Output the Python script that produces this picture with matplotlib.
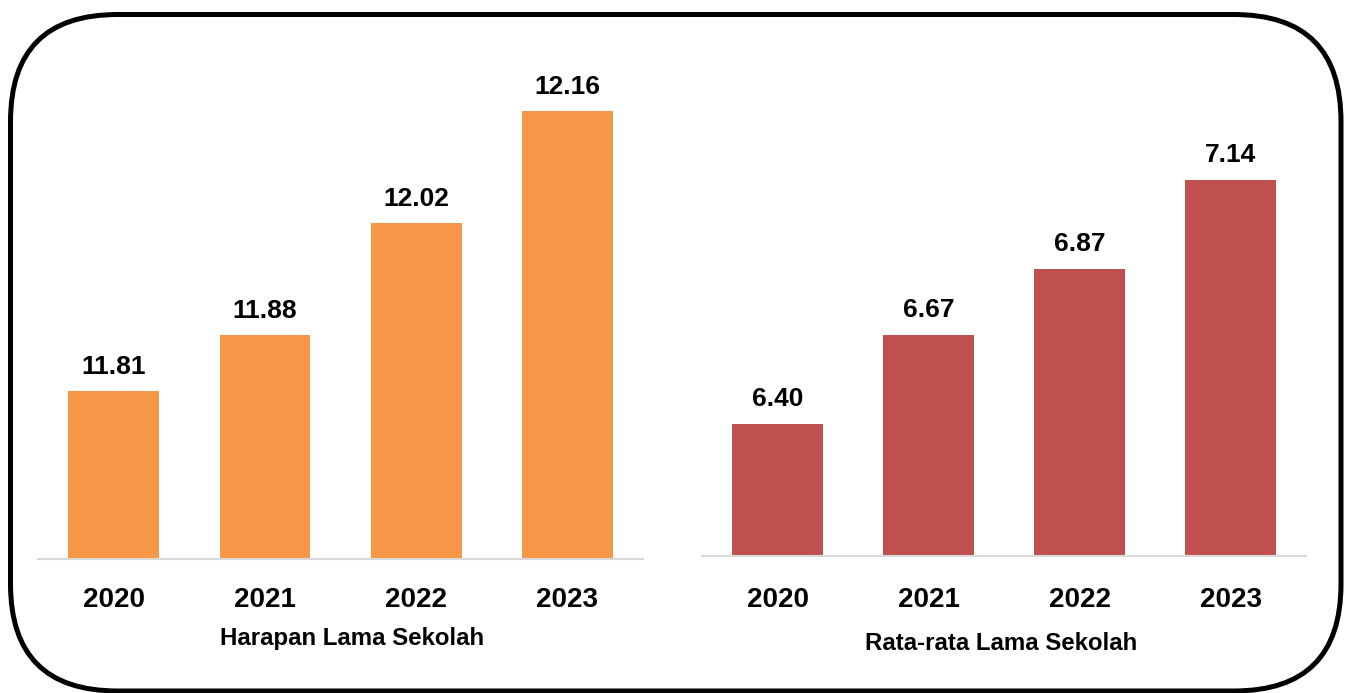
import matplotlib
matplotlib.use("Agg")
import matplotlib.pyplot as plt
from matplotlib.patches import FancyBboxPatch

years = ["2020", "2021", "2022", "2023"]
hls_values = [11.81, 11.88, 12.02, 12.16]
rls_values = [6.40, 6.67, 6.87, 7.14]
hls_labels = ["11.81", "11.88", "12.02", "12.16"]
rls_labels = ["6.40", "6.67", "6.87", "7.14"]
hls_title = "Harapan Lama Sekolah"
rls_title = "Rata-rata Lama Sekolah"

plt.rcParams['font.family'] = ['Liberation Sans', 'DejaVu Sans']

W, H = 1350, 693
fig = plt.figure(figsize=(W / 100, H / 100), dpi=100)

def px_axes(x0, x1, ybot, ytop):
    return fig.add_axes([x0 / W, (H - ybot) / H, (x1 - x0) / W, (ybot - ytop) / H])

ax1 = px_axes(38, 643, 559, 39)     # ylim 11.6 .. 12.25
ax2 = px_axes(702, 1306, 556, 94)   # ylim 6.0 .. 7.4

def draw(ax, vals, labels, color, ylim, pad):
    x = list(range(len(vals)))
    ax.bar(x, vals, width=0.6, color=color, zorder=2)
    ax.set_xlim(-0.5, len(vals) - 0.5)
    ax.set_ylim(*ylim)
    for xi, v, lab in zip(x, vals, labels):
        ax.annotate(lab, (xi, v), xytext=(0, 9), textcoords='offset points',
                    ha='center', va='bottom', fontsize=19, fontweight='bold', color='black')
    ax.set_xticks(x)
    ax.set_xticklabels(years, fontsize=20, fontweight='bold')
    ax.tick_params(axis='x', length=0, pad=pad)
    ax.set_yticks([])
    for s in ['top', 'right', 'left']:
        ax.spines[s].set_visible(False)
    ax.spines['bottom'].set_color('#D9D9D9')
    ax.spines['bottom'].set_linewidth(1.5)
    ax.patch.set_alpha(0)

draw(ax1, hls_values, hls_labels, '#F79646', (11.6, 12.25), 20.5)
draw(ax2, rls_values, rls_labels, '#C0504D', (6.0, 7.4), 22.5)

fig.text(352 / W, (H - 638) / H, hls_title, ha='center', va='center',
         fontsize=17.3, fontweight='bold')
fig.text(1001 / W, (H - 643) / H, rls_title, ha='center', va='center',
         fontsize=17.3, fontweight='bold')

box = FancyBboxPatch((0.105, 0.02), 13.305, 6.765,
                     boxstyle="round,pad=0,rounding_size=1.07",
                     transform=fig.dpi_scale_trans, fill=False,
                     edgecolor='black', linewidth=3.6, zorder=10)
fig.patches.append(box)

fig.savefig("out.png", dpi=100, facecolor='white')
